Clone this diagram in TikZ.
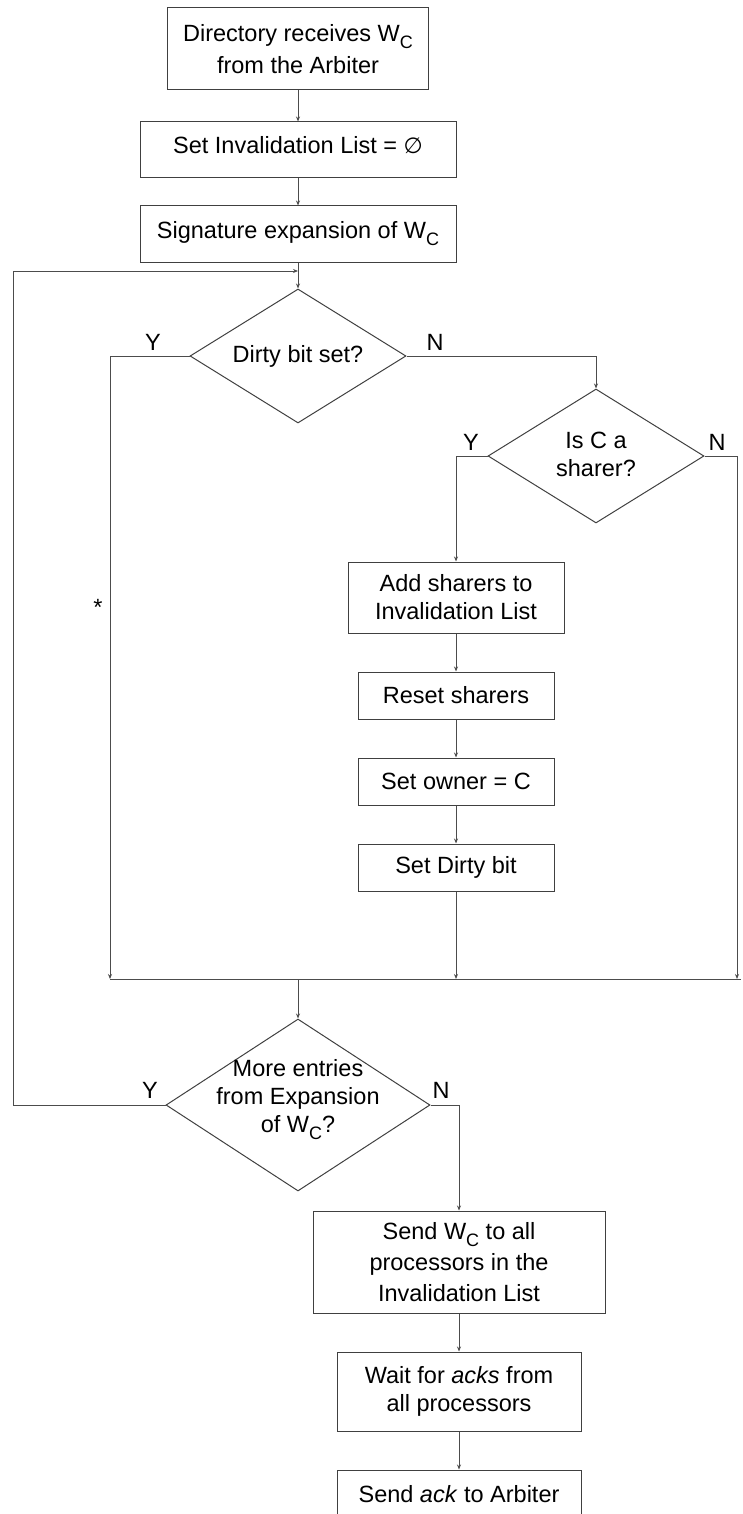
\documentclass[tikz,border=0pt]{standalone}
\usepackage{fontspec}
\setmainfont{Liberation Sans}
\usetikzlibrary{shapes.geometric,arrows.meta}
% lowered subscript used in W_C
\newcommand{\lowsub}[1]{\raisebox{-7pt}{\fontsize{18}{18}\selectfont #1}}

\begin{document}
\begin{tikzpicture}[x=1pt,y=-1pt,
  every node/.style={font=\fontsize{23.5}{28}\selectfont, inner sep=0pt},
  proc/.style={draw=black!75, line width=1pt, align=center},
  dec/.style={draw=black!75, line width=1pt, diamond},
  flow/.style={draw=black!70, line width=1pt, -{Stealth[length=5pt,width=4pt]}},
  link/.style={draw=black!70, line width=1pt}]
\useasboundingbox (0,0) rectangle (743,1514);
\clip (0,0) rectangle (743,1514);

% main column
\node[proc, minimum width=261pt, minimum height=82pt] (b1) at (298,49)
  {Directory receives W\lowsub{C}\\[4pt]from the Arbiter};
\node[proc, minimum width=316pt, minimum height=56pt, text depth=10pt] (b2) at (298,150)
  {Set Invalidation List = {\fontspec{DejaVu Sans}\fontsize{22}{22}\selectfont ∅}};
\node[proc, minimum width=316pt, minimum height=56pt] (b3) at (298,234)
  {Signature expansion of W\lowsub{C}};

% decisions
\node[dec, minimum width=216pt, minimum height=134pt] (d1) at (298,356) {};
\node (t1) at (d1) {Dirty bit set?};
\node[dec, minimum width=216pt, minimum height=134pt] (d2) at (596,456) {};
\node[align=center] (t2) at (596,454.5) {Is C a\\sharer?};

% sharer branch
\node[proc, minimum width=216pt, minimum height=71pt] (b4) at (456,597.5)
  {Add sharers to\\Invalidation List};
\node[proc, minimum width=196pt, minimum height=47pt] (b5) at (456,695.5) {Reset sharers};
\node[proc, minimum width=196pt, minimum height=47pt] (b6) at (456,781.5) {Set owner = C};
\node[proc, minimum width=196pt, minimum height=47pt] (b7) at (456,867.5) {Set Dirty bit};

% loop test
\node[dec, minimum width=264pt, minimum height=172pt] (d3) at (298,1105) {};
\node[align=center] (t3) at (298,1100) {More entries\\from Expansion\\of W\lowsub{C}?};

% final steps
\node[proc, minimum width=292pt, minimum height=102pt, font=\fontsize{23.5}{31}\selectfont] (b8) at (459,1262)
  {Send W\lowsub{C} to all\\processors in the\\Invalidation List};
\node[proc, minimum width=244pt, minimum height=79pt] (b9) at (459,1391.5)
  {Wait for \textit{acks} from\\all processors};
\node[proc, minimum width=244pt, minimum height=48pt] (b10) at (459,1494)
  {Send \textit{ack} to Arbiter};

% junction points
\coordinate (loopin) at (298,271);
\coordinate (loopL) at (13,271);
\coordinate (mY) at (110,979);
\coordinate (mD) at (456,979);
\coordinate (mN) at (737,979);
\coordinate (mL) at (110,979);
\coordinate (mR) at (741,979);
\coordinate (mC) at (298,979);

% connectors
\draw[flow] (b1) -- (b2);
\draw[flow] (b2) -- (b3);
\draw[flow] (b3) -- (d1);
\draw[flow] (d1.west) -| (mY);
\draw[flow] (d1.east) -| (d2.north);
\draw[flow] (d2.west) -| (b4.north);
\draw[flow] (d2.east) -| (mN);
\draw[flow] (b4) -- (b5);
\draw[flow] (b5) -- (b6);
\draw[flow] (b6) -- (b7);
\draw[flow] (b7) -- (mD);
\draw[link] (mL) -- (mR);
\draw[flow] (mC) -- (d3);
\draw[flow] (d3.west) -| (loopL) -- (loopin);
\draw[flow] (d3.east) -| (b8.north);
\draw[flow] (b8) -- (b9);
\draw[flow] (b9) -- (b10);

% branch labels
\node (y1) at (153,342) {Y};
\node (n1) at (435,342) {N};
\node (y2) at (471,442) {Y};
\node (n2) at (717,442) {N};
\node (y3) at (150,1090) {Y};
\node (n3) at (441,1090) {N};
\node (star) at (98,607) {*};
\end{tikzpicture}
\end{document}
